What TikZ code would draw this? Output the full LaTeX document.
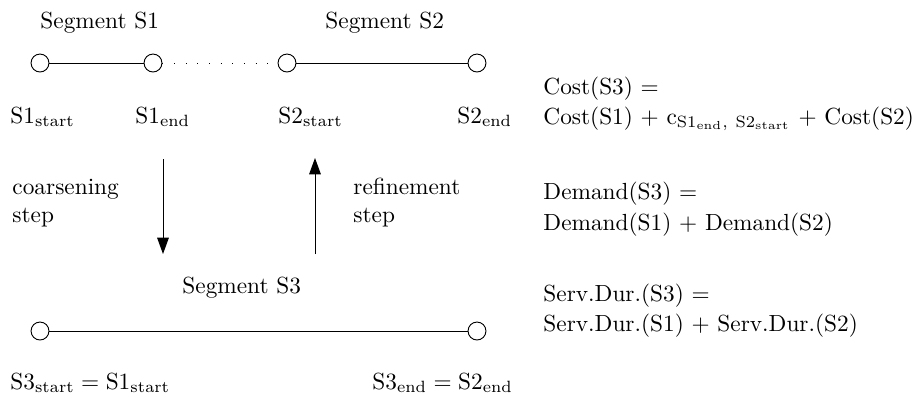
\documentclass[tikz,border=0pt]{standalone}
\usetikzlibrary{arrows.meta}
\begin{document}
\begin{tikzpicture}[x=0.429pt,y=-0.429pt,
  endpt/.style={circle,draw,fill=white,minimum size=7.7pt,inner sep=0pt},
  lbl/.style={anchor=base west,inner sep=0pt},
  flow/.style={-{Triangle[length=7pt,width=5pt]}},
  gap/.style={dash pattern=on 0.4pt off 4.6pt}]
\useasboundingbox (0,0) rectangle (920,397);

% upper level: the two segments S1 and S2
\node[endpt] (s1a) at (40,63) {};
\node[endpt] (s1b) at (153,63) {};
\node[endpt] (s2a) at (287,63) {};
\node[endpt] (s2b) at (477,63) {};
\draw (s1a) -- (s1b);
\draw[gap] (s1b) -- (s2a);
\draw (s2a) -- (s2b);

\node[lbl] (t1) at (40,28) {Segment S1};
\node[lbl] (t2) at (325,28) {Segment S2};

\node[lbl] (l1a) at (10,123) {S1$_{\mathrm{start}}$};
\node[lbl] (l1b) at (135,123) {S1$_{\mathrm{end}}$};
\node[lbl] (l2a) at (278,123) {S2$_{\mathrm{start}}$};
\node[lbl] (l2b) at (457,123) {S2$_{\mathrm{end}}$};

% transitions between the two levels
\coordinate (cTop) at (163,159);
\coordinate (cBot) at (163,254);
\coordinate (rBot) at (315,254);
\coordinate (rTop) at (315,158);
\draw[flow] (cTop) -- (cBot);
\draw[flow] (rBot) -- (rTop);

% (base anchor of a two-line node sits on its last line)
\node[lbl,align=left] (cl) at (12,222) {coarsening\\step};
\node[lbl,align=left] (rl) at (353,222) {refinement\\step};

% lower level: the merged segment S3
\node[lbl] (t3) at (182,293) {Segment S3};
\node[endpt] (s3a) at (40,331) {};
\node[endpt] (s3b) at (477,331) {};
\draw (s3a) -- (s3b);
\node[lbl] (l3a) at (10,389) {$\mathrm{S3}_{\mathrm{start}} = \mathrm{S1}_{\mathrm{start}}$};
\node[lbl] (l3b) at (372,389) {$\mathrm{S3}_{\mathrm{end}} = \mathrm{S2}_{\mathrm{end}}$};

% attribute formulas of S3
\node[lbl] (f1a) at (543,94) {Cost(S3) $=$};
\node[lbl] (f1b) at (543,124) {Cost(S1) $+$ c$_{\mathrm{S1_{end},\ S2_{start}}}$ $+$ Cost(S2)};
\node[lbl] (f2a) at (543,199) {Demand(S3) $=$};
\node[lbl] (f2b) at (543,230) {Demand(S1) $+$ Demand(S2)};
\node[lbl] (f3a) at (543,301) {Serv.Dur.(S3) $=$};
\node[lbl] (f3b) at (543,331) {Serv.Dur.(S1) $+$ Serv.Dur.(S2)};
\end{tikzpicture}
\end{document}
